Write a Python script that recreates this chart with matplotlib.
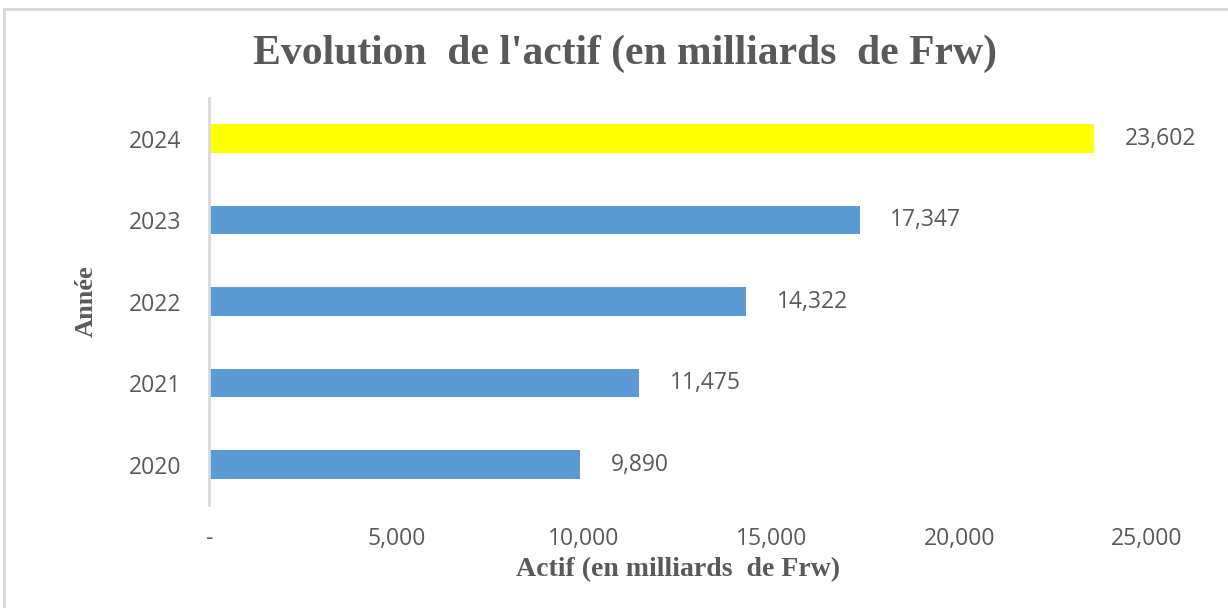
import matplotlib.pyplot as plt
from matplotlib.patches import Rectangle

years = ["2020", "2021", "2022", "2023", "2024"]
actif = [9890, 11475, 14322, 17347, 23602]
bar_colors = ["#5B9BD5", "#5B9BD5", "#5B9BD5", "#5B9BD5", "#FFFF00"]
x_ticks = [0, 5000, 10000, 15000, 20000, 25000]
x_tick_labels = ["-", "5,000", "10,000", "15,000", "20,000", "25,000"]

text_color = "#595959"

fig = plt.figure(figsize=(12.28, 6.08), dpi=100)
ax = fig.add_axes([0.170, 0.169, 0.764, 0.670])

ypos = range(len(years))
bars = ax.barh(ypos, actif, height=0.35, color=bar_colors)

# value labels at the end of each bar
for rect, val in zip(bars, actif):
    ax.annotate(f"{val:,}", (rect.get_width(), rect.get_y() + rect.get_height() / 2),
                xytext=(22, 0), textcoords="offset points", va="center", ha="left",
                fontsize=16.5, color=text_color, family="Open Sans", annotation_clip=False)

ax.set_xlim(0, 25000)
ax.set_ylim(-0.5, 4.5)
ax.set_yticks(list(ypos))
ax.set_yticklabels(years, fontsize=16.5, color=text_color, family="Open Sans")
ax.set_xticks(x_ticks)
ax.set_xticklabels(x_tick_labels, fontsize=16.5, color=text_color, family="Open Sans")
ax.tick_params(length=0)
ax.tick_params(axis="y", pad=20)
ax.tick_params(axis="x", pad=16)

for side in ["top", "right", "bottom"]:
    ax.spines[side].set_visible(False)
ax.spines["left"].set_color("#D9D9D9")
ax.spines["left"].set_linewidth(2)

ax.set_xlabel("Actif (en milliards  de Frw)", fontsize=20, fontweight="bold",
              family="Liberation Serif", color=text_color, labelpad=4)
ax.set_ylabel("Année", fontsize=19, fontweight="bold", family="Liberation Serif",
              color=text_color, labelpad=22)

fig.text(0.509, 0.912, "Evolution  de l'actif (en milliards  de Frw)", ha="center", va="center",
         fontsize=30, fontweight="bold", family="Liberation Serif", color=text_color)

# light frame around the chart area
fig.patches.append(Rectangle((0.003, -0.01), 1.0, 0.995, transform=fig.transFigure,
                             fill=False, edgecolor="#D9D9D9", linewidth=2))

fig.savefig("out.png", dpi=100, facecolor="white")
